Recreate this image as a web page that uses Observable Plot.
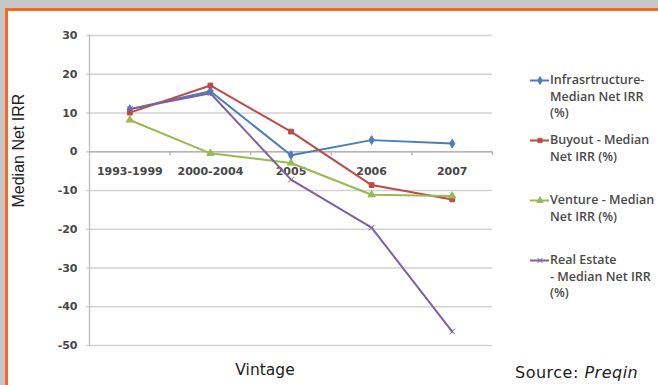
<!DOCTYPE html>
<html>
<head>
<meta charset="utf-8">
<script src="https://cdn.jsdelivr.net/npm/d3@7"></script>
<script src="https://cdn.jsdelivr.net/npm/@observablehq/plot@0.6"></script>
<style>
  html, body { margin: 0; padding: 0; }
  #frame {
    position: relative; width: 658px; height: 385px; overflow: hidden;
    background: #c6c6c6;
  }
  #panel {
    position: absolute; left: 5px; top: 8px; right: 0; bottom: 0;
    background: #fff; border-top: 3px solid #f26a2a; border-left: 3px solid #f26a2a;
  }
  #chart { position: absolute; left: 0; top: 0; }
  #legend {
    position: absolute; left: 529px; top: 0; width: 129px;
    font-family: "Open Sans", sans-serif; font-weight: 600; font-size: 12.5px;
    color: #4a4a4a; line-height: 16.5px;
  }
  .entry { position: absolute; left: 0; display: grid; grid-template-columns: 21px auto; }
  .entry svg { display: block; }
  .note {
    position: absolute; font-family: "DejaVu Sans", sans-serif; font-size: 16px; color: #222;
    white-space: nowrap; letter-spacing: 0.5px;
  }
</style>
</head>
<body>
<div id="frame">
  <div id="panel"></div>
  <div id="chart"></div>
  <div id="legend"></div>
  <div class="note" style="left:515px; top:363px;">Source: <i>Preqin</i></div>
</div>
<script>
// Vintage years on the category axis
const vintages = ["1993-1999", "2000-2004", "2005", "2006", "2007"];

// Median net IRR (%) by vintage, one array per fund type
const infrastructure = [11, 15.6, -0.9, 3, 2.1];
const buyout = [10.1, 17.1, 5.2, -8.6, -12.3];
const venture = [8.2, -0.4, -2.9, -11.1, -11.4];
const realEstate = [11, 15.1, -7.2, -19.6, -46.4];

const seriesNames = [
  "Infrasrtructure- Median Net IRR (%)",
  "Buyout - Median Net IRR (%)",
  "Venture - Median Net IRR (%)",
  "Real Estate - Median Net IRR (%)"
];
const legendLines = [
  ["Infrasrtructure-", "Median Net IRR", "(%)"],
  ["Buyout - Median", "Net IRR (%)"],
  ["Venture - Median", "Net IRR (%)"],
  ["Real Estate", "- Median Net IRR", "(%)"]
];
const seriesColors = ["#4a7ebb", "#be4b48", "#98b954", "#7d60a0"];
const seriesSymbols = ["diamond", "square", "triangle", "times"];

const yTicks = [30, 20, 10, 0, -10, -20, -30, -40, -50];
const yDomain = [-50, 30];

// Long-format table for the line and dot marks
const seriesValues = [infrastructure, buyout, venture, realEstate];
const rows = seriesValues.flatMap((vals, s) =>
  vals.map((v, i) => ({series: seriesNames[s], i, vintage: vintages[i], value: v}))
);
// Category boundaries (index + 0.5) carry the small axis ticks
const boundaries = vintages.map((d, i) => i + 0.5);

const chart = Plot.plot({
  width: 658,
  height: 385,
  marginLeft: 89,
  marginRight: 166,
  marginTop: 35,
  marginBottom: 40,
  style: {background: "transparent", overflow: "visible"},
  x: {type: "linear", domain: [-0.5, vintages.length - 0.5], axis: null},
  y: {domain: yDomain, axis: null},
  color: {domain: seriesNames, range: seriesColors},
  symbol: {domain: seriesNames, range: seriesSymbols},
  marks: [
    // horizontal gridlines with short outward ticks
    Plot.ruleY(yTicks, {stroke: "#d2d2d2", strokeWidth: 1.3, insetLeft: -3}),
    // vertical axis line
    Plot.frame({anchor: "left", stroke: "#bdbdbd", strokeWidth: 1.3}),
    // category axis crossing at zero
    Plot.ruleY([0], {stroke: "#b5b5b5", strokeWidth: 1.3}),
    Plot.ruleX(boundaries, {y1: 0, y2: -1, stroke: "#b5b5b5", strokeWidth: 1.3}),
    // y tick labels
    Plot.text(yTicks, {
      x: -0.5, y: d => d, text: d => String(d), textAnchor: "end", dx: -12,
      fontFamily: "DejaVu Sans", fontSize: 11, fontWeight: 600, fill: "#474747"
    }),
    // category labels
    Plot.text(vintages, {
      x: (d, i) => i, y: 0, text: d => d, dy: 20,
      fontFamily: "DejaVu Sans", fontSize: 11, fontWeight: 600, fill: "#474747"
    }),
    // series lines and markers
    Plot.line(rows, {x: "i", y: "value", z: "series", stroke: "series", strokeWidth: 2}),
    Plot.dot(rows, {
      x: "i", y: "value", symbol: "series", r: 2.7,
      fill: "series", stroke: "series", strokeWidth: 1
    }),
    // axis titles
    Plot.text(["Median Net IRR"], {
      frameAnchor: "left", rotate: -90, dx: -71, dy: 17,
      fontFamily: "Liberation Sans", fontSize: 16, fill: "#222"
    }),
    Plot.text(["Vintage"], {
      frameAnchor: "bottom", dy: 29, dx: -26,
      fontFamily: "DejaVu Sans", fontSize: 15.5, fill: "#222"
    })
  ]
});
document.getElementById("chart").appendChild(chart);

// Legend to the right of the plot
const symbolTypes = {
  diamond: d3.symbolDiamond, square: d3.symbolSquare,
  triangle: d3.symbolTriangle, times: d3.symbolTimes
};
const legend = d3.select("#legend");
legendLines.forEach((lines, s) => {
  const entry = legend.append("div").attr("class", "entry").style("top", `${72 + s * 60}px`);
  lines.forEach((line, j) => {
    const cell = entry.append("div");
    if (j === 0) {
      const svg = cell.append("svg").attr("width", 21).attr("height", 16.5);
      svg.append("line").attr("x1", 1).attr("x2", 20).attr("y1", 8.5).attr("y2", 8.5)
        .attr("stroke", seriesColors[s]).attr("stroke-width", 2);
      svg.append("path")
        .attr("d", d3.symbol(symbolTypes[seriesSymbols[s]], 18)())
        .attr("transform", "translate(11,8.5)")
        .attr("fill", seriesColors[s]).attr("stroke", seriesColors[s]).attr("stroke-width", 1);
    }
    entry.append("div").text(line);
  });
});
</script>
</body>
</html>
